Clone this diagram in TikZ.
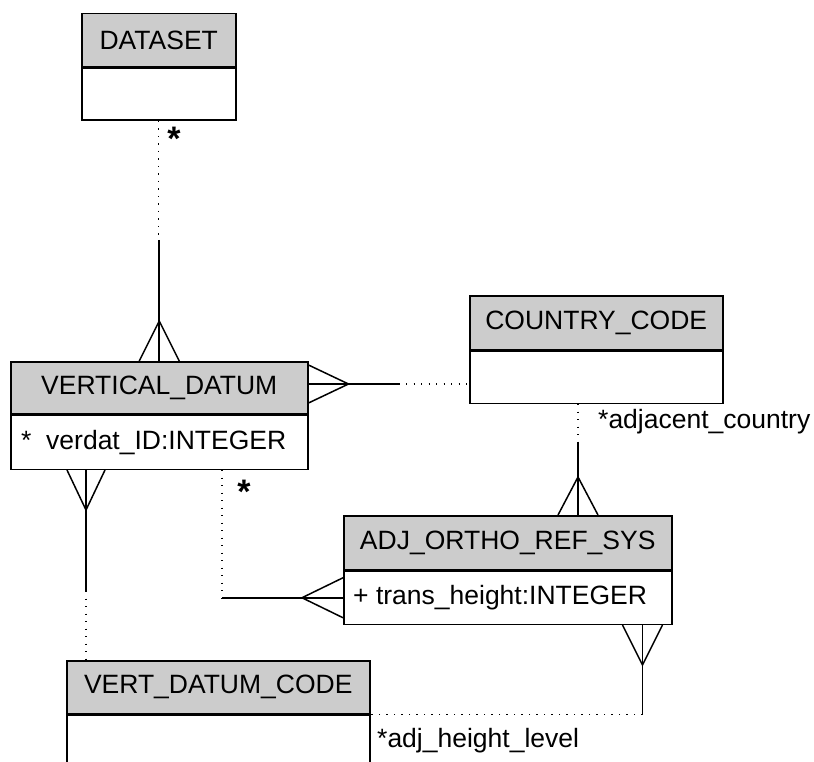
\documentclass[tikz,border=0pt]{standalone}
\usepackage{fontspec}
\setmainfont{Liberation Sans}
\usetikzlibrary{calc}
\tikzset{
  hdr/.style={draw, line width=1.5pt, fill=black!20, anchor=north west, inner sep=0pt,
    font=\fontsize{26.5}{30}\selectfont},
  bdy/.style={draw, line width=1.5pt, fill=white, anchor=north west, inner sep=0pt},
  txt/.style={inner sep=0pt, anchor=west, font=\fontsize{26.5}{30}\selectfont},
  lbl/.style={inner sep=0pt, font=\fontsize{26.5}{30}\selectfont},
  star/.style={inner sep=0pt, font=\fontsize{34}{36}\selectfont\bfseries},
  dots/.style={line width=1.2pt, dash pattern=on 1.2pt off 6.3pt},
  sol/.style={line width=1.5pt}
}
\begin{document}
\begin{tikzpicture}[x=1pt,y=-1pt]
\useasboundingbox (0,0) rectangle (814,762);
\clip (0,0) rectangle (814,762);
% DATASET
\node[hdr, minimum width=154, minimum height=53] (dsH) at (81,13) {DATASET};
\node[bdy, minimum width=154, minimum height=52] (dsB) at (dsH.south west) {};
% VERTICAL_DATUM
\node[hdr, minimum width=297, minimum height=52] (vdH) at (10,361) {VERTICAL\_DATUM};
\node[bdy, minimum width=297, minimum height=54] (vdB) at (vdH.south west) {};
\node[txt] (vdA) at ($(vdB.west)+(11,0)$) {*\ \ verdat\_ID:INTEGER};
% COUNTRY_CODE
\node[hdr, minimum width=253, minimum height=54] (ccH) at (469,295) {COUNTRY\_CODE};
\node[bdy, minimum width=253, minimum height=52] (ccB) at (ccH.south west) {};
% ADJ_ORTHO_REF_SYS
\node[hdr, minimum width=328, minimum height=54] (adH) at (343,515) {ADJ\_ORTHO\_REF\_SYS};
\node[bdy, minimum width=328, minimum height=53] (adB) at (adH.south west) {};
\node[txt] (adA) at ($(adB.west)+(10,0)$) {+ trans\_height:INTEGER};
% VERT_DATUM_CODE
\node[hdr, minimum width=303, minimum height=53] (vcH) at (66,660) {VERT\_DATUM\_CODE};
\node[bdy, minimum width=303, minimum height=80] (vcB) at (vcH.south west) {};

% connector DATASET - VERTICAL_DATUM
\coordinate (c1) at ($(dsB.south)+(0,119)$);
\draw[dots] (dsB.south) -- (c1);
\draw[sol] (c1) -- (c1 |- vdH.north);
\draw[sol] ($(vdH.north)+(-20,0)$) -- ($(vdH.north)+(0,-40)$) -- ($(vdH.north)+(20,0)$);
\node[star] (s1) at (174,139) {*};

% connector VERTICAL_DATUM - COUNTRY_CODE
\coordinate (c2a) at ($(vdH.north east)+(0,23)$);
\coordinate (c2) at ($(c2a)+(90,0)$);
\draw[sol] (c2a) -- (c2);
\draw[dots] (c2) -- (c2a -| ccB.west);
\draw[sol] ($(c2a)+(0,-19)$) -- ($(c2a)+(40,0)$) -- ($(c2a)+(0,19)$);

% connector COUNTRY_CODE - ADJ_ORTHO_REF_SYS
\coordinate (c3a) at ($(ccB.south west)+(109,0)$);
\coordinate (c3b) at (c3a |- adH.north);
\coordinate (c3) at ($(c3b)+(0,-72)$);
\draw[dots] (c3a) -- (c3);
\draw[sol] (c3) -- (c3b);
\draw[sol] ($(c3b)+(-20,0)$) -- ($(c3b)+(0,-38)$) -- ($(c3b)+(20,0)$);
\node[lbl, anchor=west] (s3) at (598,422) {*adjacent\_country};

% connector VERTICAL_DATUM - ADJ_ORTHO_REF_SYS
\coordinate (c4a) at ($(vdB.south west)+(212,0)$);
\coordinate (c4b) at (c4a |- adB.west);
\draw[dots] (c4a) -- (c4b);
\draw[sol] (c4b) -- (adB.west);
\draw[sol] ($(adB.west)+(0,-20)$) -- ($(adB.west)+(-41,0)$) -- ($(adB.west)+(0,20)$);
\node[star] (s4) at (244,492) {*};

% connector VERTICAL_DATUM - VERT_DATUM_CODE
\coordinate (c5a) at ($(vdB.south west)+(76,0)$);
\coordinate (c5) at ($(c5a)+(0,121)$);
\draw[sol] (c5a) -- (c5);
\draw[dots] (c5) -- (c5 |- vcH.north);
\draw[sol] ($(c5a)+(-19,0)$) -- ($(c5a)+(0,40)$) -- ($(c5a)+(19,0)$);

% connector ADJ_ORTHO_REF_SYS - VERT_DATUM_CODE
\coordinate (c6a) at ($(adB.south east)+(-30,0)$);
\coordinate (c6) at (c6a |- vcH.south east);
\draw[sol] (c6a) -- (c6);
\draw[dots] (c6) -- (vcH.south east);
\draw[sol] ($(c6a)+(-20,0)$) -- ($(c6a)+(0,40)$) -- ($(c6a)+(20,0)$);
\node[lbl, anchor=west] (s6) at (377,741) {*adj\_height\_level};
\end{tikzpicture}
\end{document}
